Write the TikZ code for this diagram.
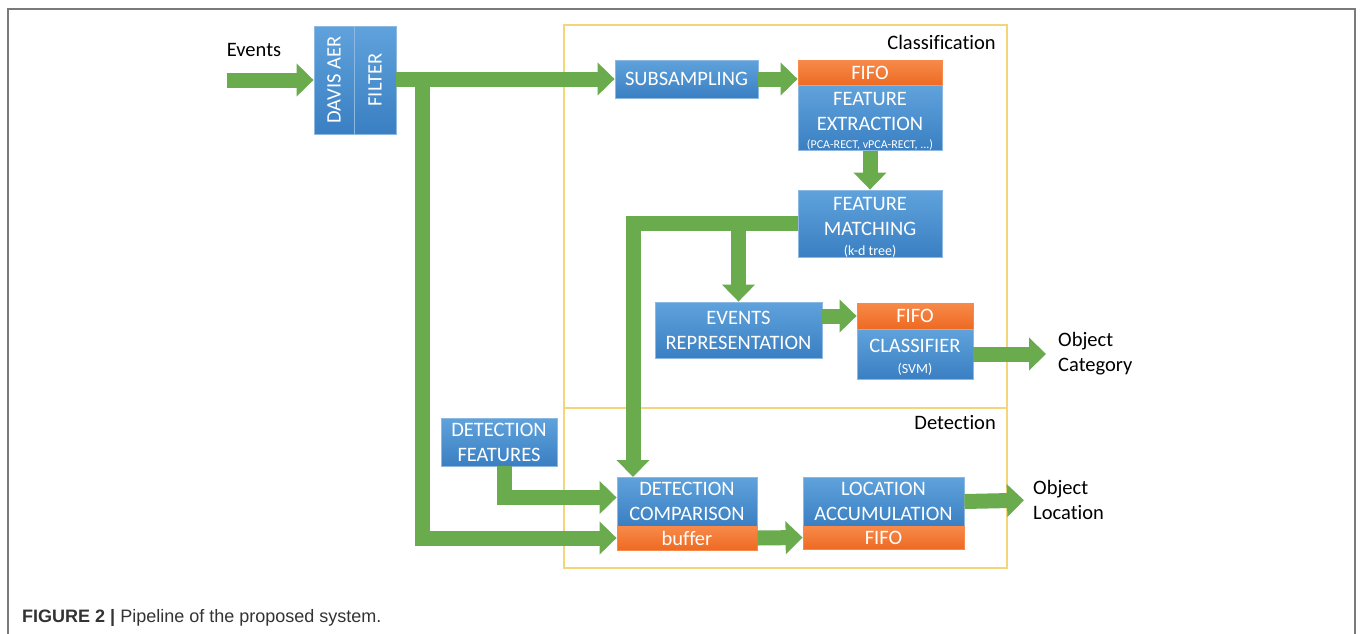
\documentclass[tikz,border=0pt]{standalone}
\usepackage{fontspec}
\setmainfont[Ligatures=NoCommon]{Carlito}
\newfontfamily\capfont{Liberation Sans}
\usetikzlibrary{arrows.meta,calc}
\definecolor{bluetop}{HTML}{5FA2DC}
\definecolor{bluebot}{HTML}{3A7FC2}
\definecolor{blueedge}{HTML}{8CB8E2}
\definecolor{ortop}{HTML}{F78A4A}
\definecolor{orbot}{HTML}{EE6A22}
\definecolor{arrgreen}{HTML}{6AAB4E}
\definecolor{frameyel}{HTML}{F5D57A}
\definecolor{outergray}{HTML}{7A7A7A}
\newcommand{\dgbig}{\fontsize{20.5}{25}\selectfont}
\newcommand{\dgsmall}{\fontsize{14}{16}\selectfont}
\newcommand{\dgtiny}{\fontsize{12}{13}\selectfont}
\newcommand{\dgstrut}{\rule{0pt}{20pt}}
\begin{document}
\begin{tikzpicture}[x=1pt,y=-1pt,
 box/.style={rectangle, inner sep=0pt, top color=bluetop, bottom color=bluebot, draw=blueedge, line width=0.8pt, text=white, font=\dgbig, align=center},
 obox/.style={rectangle, inner sep=0pt, top color=ortop, bottom color=orbot, draw=ortop, line width=0.8pt, text=white, font=\dgbig, align=center},
 fat/.style={draw=arrgreen, line width=15pt, -{Triangle[width=32pt,length=17pt]}, line join=miter},
 lbl/.style={inner sep=0pt, font=\dgbig, align=left, text=black},
 frame/.style={draw=frameyel, line width=1.2pt}]
\useasboundingbox (0,0) rectangle (1360,633);
\draw[outergray, line width=2pt] (8,640) -- (8,9) -- (1355,9) -- (1355,640);
% frames
\draw[frame] (564,25) rectangle (1007,408);
\draw[frame] (564,408) rectangle (1007,568);
\node[lbl, anchor=east] (clslbl) at (996,42) {Classification};
\node[lbl, anchor=east] (detlbl) at (996,423) {Detection};
% nodes
\node[lbl, align=center] (evlbl) at (254,50) {Events};
\coordinate (evin) at (227,80);
\node[box, minimum width=40, minimum height=108] (davis) at (334,80) {\rotatebox{90}{DAVIS AER}};
\node[box, minimum width=42, minimum height=108] (filter) at (375,80) {\rotatebox{90}{FILTER}};
\node[box, minimum width=143, minimum height=38] (sub) at (686.5,79) {SUBSAMPLING};
\node[obox, minimum width=144, minimum height=26] (fifo1) at (870,73) {FIFO};
\node[box, minimum width=144, minimum height=64] (fe) at (870,118) {\dgstrut FEATURE\\EXTRACTION\\[-7pt]{\dgtiny (PCA-RECT, vPCA-RECT, ...)}};
\node[box, minimum width=144, minimum height=67] (fm) at (870,223.5) {\dgstrut FEATURE\\MATCHING\\[-5pt]{\dgsmall (k-d tree)}};
\node[box, minimum width=167, minimum height=56] (er) at (738.5,330) {EVENTS\\REPRESENTATION};
\node[obox, minimum width=116, minimum height=26] (fifo2) at (915,316) {FIFO};
\node[box, minimum width=116, minimum height=50] (cls) at (915,354) {\dgstrut CLASSIFIER\\[-4pt]{\dgsmall (SVM)}};
\node[lbl, anchor=west] (objcat) at (1058,354) {Object\\Category};
\node[box, minimum width=116, minimum height=48] (df) at (499,442) {DETECTION\\FEATURES};
\node[box, minimum width=140, minimum height=49] (dc) at (687,501.5) {DETECTION\\COMPARISON};
\node[obox, minimum width=140, minimum height=24] (buf) at (687,538) {buffer};
\node[box, minimum width=161, minimum height=49] (la) at (883.5,501.5) {LOCATION\\ACCUMULATION};
\node[obox, minimum width=161, minimum height=23] (fifo3) at (883.5,537.5) {FIFO};
\node[lbl, anchor=west] (objloc) at (1033,500) {Object\\Location};
\node[inner sep=0pt, anchor=base west, font=\capfont\fontsize{18}{20}\selectfont, text=black!80] (caption) at (22,622) {\textbf{FIGURE 2 |} Pipeline of the proposed system.};
% connectors
\coordinate (br) at (422,80);
\coordinate (dcin) at (633,477);
\coordinate (dfx) at (504,0);
\draw[fat] (evin) -- (davis.west);
\draw[fat] (br) |- (buf.west);
\draw[fat] (filter.east |- sub.west) -- (sub.west);
\draw[fat] (sub.east) -- (fifo1.west |- sub.east);
\draw[fat] (fe.south) -- (fm.north);
\draw[fat] (fm.west) -| (dcin);
\draw[fat] (fm.west -| er.north) -- (er.north);
\draw[fat] (er.east |- fifo2.west) -- (fifo2.west);
\draw[fat, shorten >=12pt] (cls.east) -- (objcat.west);
\draw[fat] (df.south -| dfx) |- ($(dc.west)+(0,-4)$);
\draw[fat] (buf.east) -- (fifo3.west);
\draw[fat, shorten >=9pt] (la.east) -- (objloc.west);
\end{tikzpicture}
\end{document}
